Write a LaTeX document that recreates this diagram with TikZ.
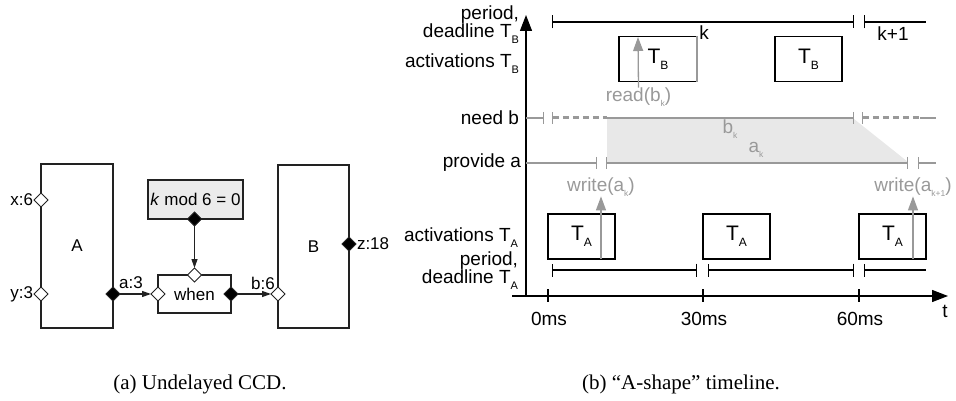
\documentclass[tikz,border=0pt]{standalone}
\usepackage{fontspec}
\setmainfont{Liberation Sans}
\newfontfamily\capfont{Liberation Serif}
\usetikzlibrary{arrows.meta,shapes.geometric}
\definecolor{lgrey}{HTML}{999999}
\definecolor{shadecol}{HTML}{E8E8E8}
\definecolor{kfill}{HTML}{EBEBEB}
\definecolor{dline}{HTML}{222222}
\newcommand{\lsub}[1]{\raisebox{-6pt}{\fontsize{11}{11}\selectfont #1}}
\newcommand{\bsub}[1]{\raisebox{-6pt}{\fontsize{12}{12}\selectfont #1}}
\newcommand{\tsub}[1]{\raisebox{-5pt}{\fontsize{8.5}{8.5}\selectfont #1}}
\begin{document}
\begin{tikzpicture}[x=1pt,y=-1pt,
  every node/.style={inner sep=0pt, outer sep=0pt},
  sfont/.style={font=\fontsize{17}{17}\selectfont},
  rfont/.style={font=\fontsize{19}{19}\selectfont},
  blk/.style={draw=dline, line width=1.2pt, fill=white},
  pin/.style={diamond, draw=dline, line width=1pt, fill=white, minimum width=14pt, minimum height=14pt, inner sep=0pt},
  pout/.style={pin, fill=black},
  conn/.style={draw=dline, line width=1.2pt, -{Triangle[length=9pt,width=6pt]}},
  axis/.style={draw=black, line width=1.3pt, -{Triangle[length=16pt,width=12pt]}},
  tck/.style={draw=black, line width=1.3pt},
  perbb/.style={draw=black, line width=1.3pt, {Bar[width=13pt]}-{Bar[width=13pt]}},
  perb/.style={draw=black, line width=1.3pt, {Bar[width=13pt]}-},
  tbox/.style={draw=black, line width=1.3pt, minimum height=45pt, font=\fontsize{21}{21}\selectfont},
  gl/.style={draw=lgrey, line width=1.3pt},
  gbar/.style={gl, -{Bar[width=12pt]}},
  gbarb/.style={gl, {Bar[width=12pt]}-{Bar[width=12pt]}},
  gbars/.style={gl, {Bar[width=12pt]}-},
  dsh/.style={draw=lgrey, line width=3pt, dash pattern=on 6pt off 4pt, {Bar[width=12pt,line width=1.3pt]}-},
  garr/.style={draw=lgrey, line width=1.3pt, -{Triangle[length=14pt,width=10pt]}},
  gtext/.style={rfont, text=lgrey},
  two/.style={rfont, align=right, anchor=east, font=\fontsize{19}{18}\selectfont},
  captext/.style={font=\capfont\fontsize{21}{21}\selectfont}
]
\useasboundingbox (0,0) rectangle (956,401);

% ---------------- left: undelayed CCD ----------------
\node[blk, minimum width=72pt, minimum height=164pt, sfont] (A) at (77,246) {A};
\node[blk, minimum width=71pt, minimum height=163pt, sfont] (B) at (313.5,246.5) {B};
\node[blk, minimum width=73pt, minimum height=38pt, sfont] (when) at (194.5,294) {when};
\node[blk, fill=kfill, minimum width=95pt, minimum height=39pt, sfont] (kmod) at (195.5,199.5) {\textit{k} mod 6 = 0};

\node[pin] (px) at (41,200) {};
\node[pin] (py) at (41,294) {};
\node[pout] (pa) at (113,294) {};
\node[pin] (pwin) at (158,294) {};
\node[pin] (pwtop) at (194.5,275) {};
\node[pout] (pwout) at (231,294) {};
\node[pin] (pb) at (278,294) {};
\node[pout] (pz) at (349,244) {};
\node[pout] (pk) at (194.5,219) {};

\node[sfont, anchor=east] (lx) at (33,200) {x:6};
\node[sfont, anchor=east] (ly) at (33,294) {y:3};
\node[sfont] (la) at (131,283) {a:3};
\node[sfont] (lb) at (263,283) {b:6};
\node[sfont, anchor=west] (lz) at (357,244) {z:18};

\draw[conn] (pa.east) -- (pwin.west);
\draw[conn] (pwout.east) -- (pb.west);
\draw[conn] (pk.south) -- (pwtop.north);

% ---------------- right: A-shape timeline ----------------
% shaded area
\coordinate (s1) at (607,119);
\coordinate (s2) at (854,119);
\coordinate (s3) at (908,162);
\coordinate (s4) at (607,162);
\fill[shadecol] (s1) -- (s2) -- (s3) -- (s4) -- cycle;

% axes
\coordinate (ybot) at (526,296);
\coordinate (ytop) at (526,15);
\coordinate (xleft) at (512,296);
\coordinate (xright) at (948,296);
\draw[axis] (ybot) -- (ytop);
\draw[axis] (xleft) -- (xright);

% ticks
\coordinate (t0a) at (548,289); \coordinate (t0b) at (548,302);
\coordinate (t1a) at (703,289); \coordinate (t1b) at (703,302);
\coordinate (t2a) at (859,289); \coordinate (t2b) at (859,302);
\draw[tck] (t0a) -- (t0b);
\draw[tck] (t1a) -- (t1b);
\draw[tck] (t2a) -- (t2b);
\node[rfont] (l0) at (549,319) {0ms};
\node[rfont] (l30) at (704,319) {30ms};
\node[rfont] (l60) at (860,319) {60ms};
\node[rfont] (lt) at (945,311) {t};

% axis labels
\node[two] (lpdB) at (519,25) {period,\\deadline T\lsub{B}};
\node[rfont, anchor=east] (laB) at (519,64) {activations T\lsub{B}};
\node[rfont, anchor=east] (lnb) at (519,118) {need b};
\node[rfont, anchor=east] (lpa) at (521,163) {provide a};
\node[rfont, anchor=east] (laA) at (518,238) {activations T\lsub{A}};
\node[two] (lpdA) at (518,271) {period,\\deadline T\lsub{A}};

% period T_B
\coordinate (pb0) at (552,22); \coordinate (pb1) at (854,22);
\coordinate (pb2) at (864,22); \coordinate (pb3) at (926,22);
\draw[perbb] (pb0) -- (pb1);
\draw[perb] (pb2) -- (pb3);
\node[rfont] (lk) at (704,33) {k};
\node[rfont] (lk1) at (893,34) {k+1};

% activations T_B
\node[tbox, minimum width=78pt] (tb1) at (658,59) {T\bsub{B}};
\coordinate (tb1a) at (697,36); \coordinate (tb1b) at (697,82);
\draw[draw=lgrey, line width=1.4pt] (tb1a) -- (tb1b);
\node[tbox, minimum width=67pt] (tb2) at (808.5,59) {T\bsub{B}};

% read(b_k)
\node[gtext] (rb) at (638.5,97) {read(b\tsub{k})};
\coordinate (rbtip) at (638,37);
\draw[garr] (rb.north) -- (rbtip);

% need b
\coordinate (nb0) at (526,118); \coordinate (nb1) at (544,118);
\coordinate (nb2) at (552,118); \coordinate (nb3) at (607,118);
\coordinate (nb4) at (854,118); \coordinate (nb5) at (862,118);
\coordinate (nb6) at (920,118); \coordinate (nb7) at (936,118);
\draw[gbar] (nb0) -- (nb1);
\draw[dsh] (nb2) -- (nb3);
\draw[gbar] (nb3) -- (nb4);
\draw[dsh] (nb5) -- (nb6);
\draw[gl] (nb6) -- (nb7);

% provide a
\coordinate (pa0) at (526,163); \coordinate (pa1) at (597,163);
\coordinate (pa2) at (606,163); \coordinate (pa3) at (908,163);
\coordinate (pa4) at (918,163); \coordinate (pa5) at (936,163);
\draw[gbar] (pa0) -- (pa1);
\draw[gbarb] (pa2) -- (pa3);
\draw[gbars] (pa4) -- (pa5);

\node[gtext] (bk) at (730,129) {b\tsub{k}};
\node[gtext] (ak) at (756,150) {a\tsub{k}};

% activations T_A
\node[tbox, minimum width=67pt] (ta1) at (581.5,236.5) {T\bsub{A}};
\node[tbox, minimum width=67pt] (ta2) at (736.5,236.5) {T\bsub{A}};
\node[tbox, minimum width=67pt] (ta3) at (892.5,236.5) {T\bsub{A}};

% write arrows
\node[gtext] (wa) at (601,187) {write(a\tsub{k})};
\coordinate (wab) at (601,259);
\draw[garr] (wab) -- (wa.south);
\node[gtext] (wa1) at (913,187) {write(a\tsub{k+1})};
\coordinate (wa1b) at (913,259);
\draw[garr] (wa1b) -- (wa1.south);

% period T_A
\coordinate (pA0) at (552,270); \coordinate (pA1) at (697,270);
\coordinate (pA2) at (708,270); \coordinate (pA3) at (854,270);
\coordinate (pA4) at (864,270); \coordinate (pA5) at (926,270);
\draw[perbb] (pA0) -- (pA1);
\draw[perbb] (pA2) -- (pA3);
\draw[perb] (pA4) -- (pA5);

% captions
\node[captext] (capa) at (200,384) {(a) Undelayed CCD.};
\node[captext] (capb) at (681,384) {(b) “A-shape” timeline.};
\end{tikzpicture}
\end{document}
